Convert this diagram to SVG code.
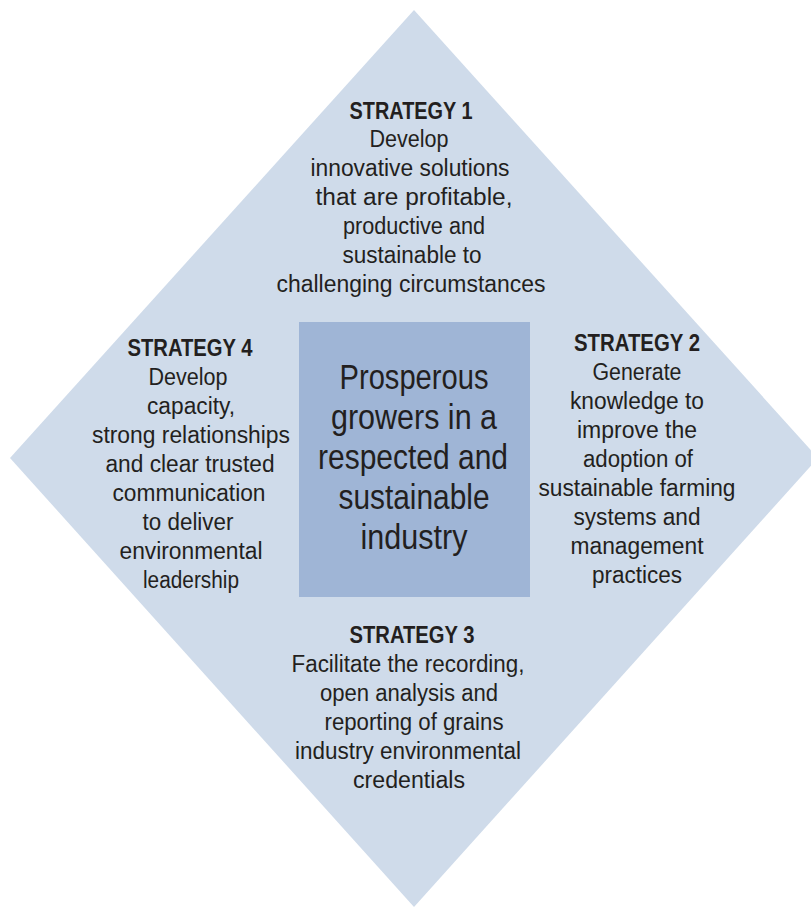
<svg xmlns="http://www.w3.org/2000/svg" width="811" height="907" viewBox="0 0 811 907">
  <style>
    text { font-family: "Liberation Sans", Arial, sans-serif; fill: #231f20; text-anchor: middle; }
    .h { font-weight: bold; font-size: 23px; }
    .b { font-size: 23px; }
    .c { font-size: 35px; }
  </style>
  <!-- background diamond -->
  <polygon points="414,10 818,458 414,907 10,458" fill="#cfdbea"/>

  <g id="core">
    <rect x="299" y="322" width="231" height="275" fill="#9fb5d6"/>
    <text class="c" x="414" y="389" textLength="149" lengthAdjust="spacingAndGlyphs">Prosperous</text>
    <text class="c" x="414" y="429" textLength="166" lengthAdjust="spacingAndGlyphs">growers in a</text>
    <text class="c" x="413" y="469" textLength="190" lengthAdjust="spacingAndGlyphs">respected and</text>
    <text class="c" x="414" y="509" textLength="151" lengthAdjust="spacingAndGlyphs">sustainable</text>
    <text class="c" x="414" y="549" textLength="107" lengthAdjust="spacingAndGlyphs">industry</text>
  </g>

  <g id="strategy1">
    <text class="h" x="411" y="119" textLength="123" lengthAdjust="spacingAndGlyphs">STRATEGY 1</text>
    <text class="b" x="409" y="147" textLength="79" lengthAdjust="spacingAndGlyphs">Develop</text>
    <text class="b" x="410" y="176" textLength="199" lengthAdjust="spacingAndGlyphs">innovative solutions</text>
    <text class="b" x="414" y="205" textLength="197" lengthAdjust="spacingAndGlyphs">that are profitable,</text>
    <text class="b" x="414" y="234" textLength="142" lengthAdjust="spacingAndGlyphs">productive and</text>
    <text class="b" x="412" y="263" textLength="139" lengthAdjust="spacingAndGlyphs">sustainable to</text>
    <text class="b" x="411" y="292" textLength="269" lengthAdjust="spacingAndGlyphs">challenging circumstances</text>
  </g>

  <g id="strategy2">
    <text class="h" x="637" y="351" textLength="126" lengthAdjust="spacingAndGlyphs">STRATEGY 2</text>
    <text class="b" x="637" y="380" textLength="89" lengthAdjust="spacingAndGlyphs">Generate</text>
    <text class="b" x="637" y="409" textLength="134" lengthAdjust="spacingAndGlyphs">knowledge to</text>
    <text class="b" x="637" y="438" textLength="120" lengthAdjust="spacingAndGlyphs">improve the</text>
    <text class="b" x="638" y="467" textLength="110" lengthAdjust="spacingAndGlyphs">adoption of</text>
    <text class="b" x="637" y="496" textLength="197" lengthAdjust="spacingAndGlyphs">sustainable farming</text>
    <text class="b" x="637" y="525" textLength="127" lengthAdjust="spacingAndGlyphs">systems and</text>
    <text class="b" x="637" y="554" textLength="133" lengthAdjust="spacingAndGlyphs">management</text>
    <text class="b" x="637" y="583" textLength="90" lengthAdjust="spacingAndGlyphs">practices</text>
  </g>

  <g id="strategy3">
    <text class="h" x="412" y="643" textLength="125" lengthAdjust="spacingAndGlyphs">STRATEGY 3</text>
    <text class="b" x="408" y="672" textLength="233" lengthAdjust="spacingAndGlyphs">Facilitate the recording,</text>
    <text class="b" x="409" y="701" textLength="178" lengthAdjust="spacingAndGlyphs">open analysis and</text>
    <text class="b" x="414" y="730" textLength="179" lengthAdjust="spacingAndGlyphs">reporting of grains</text>
    <text class="b" x="408" y="759" textLength="226" lengthAdjust="spacingAndGlyphs">industry environmental</text>
    <text class="b" x="409" y="788" textLength="112" lengthAdjust="spacingAndGlyphs">credentials</text>
  </g>

  <g id="strategy4">
    <text class="h" x="190" y="356" textLength="125" lengthAdjust="spacingAndGlyphs">STRATEGY 4</text>
    <text class="b" x="188" y="385" textLength="79" lengthAdjust="spacingAndGlyphs">Develop</text>
    <text class="b" x="191" y="414" textLength="88" lengthAdjust="spacingAndGlyphs">capacity,</text>
    <text class="b" x="191" y="443" textLength="198" lengthAdjust="spacingAndGlyphs">strong relationships</text>
    <text class="b" x="190" y="472" textLength="169" lengthAdjust="spacingAndGlyphs">and clear trusted</text>
    <text class="b" x="189" y="501" textLength="153" lengthAdjust="spacingAndGlyphs">communication</text>
    <text class="b" x="188" y="530" textLength="91" lengthAdjust="spacingAndGlyphs">to deliver</text>
    <text class="b" x="191" y="559" textLength="143" lengthAdjust="spacingAndGlyphs">environmental</text>
    <text class="b" x="191" y="588" textLength="96" lengthAdjust="spacingAndGlyphs">leadership</text>
  </g>
</svg>
